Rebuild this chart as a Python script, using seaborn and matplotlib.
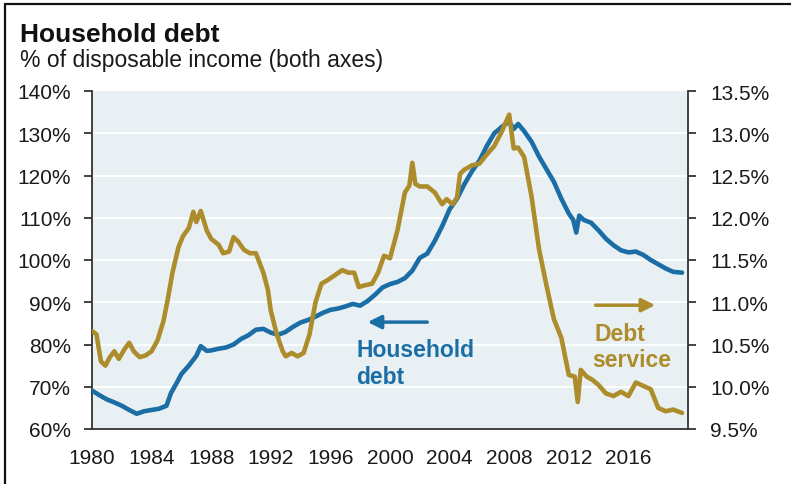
import matplotlib
matplotlib.use("Agg")
import matplotlib.pyplot as plt
import seaborn as sns
import pandas as pd
from matplotlib.lines import Line2D

# ---------------- data ----------------
hh_years = [1980.0, 1980.5, 1981.0, 1981.5, 1982.0, 1982.5, 1983.0, 1983.5, 1984.0, 1984.5,
            1985.0, 1985.3, 1985.7, 1986.0, 1986.5, 1987.0, 1987.3, 1987.7, 1988.0, 1988.5,
            1989.0, 1989.5, 1990.0, 1990.5, 1991.0, 1991.5, 1992.0, 1992.5, 1993.0, 1993.5,
            1994.0, 1994.5, 1995.0, 1995.5, 1996.0, 1996.5, 1997.0, 1997.5, 1998.0, 1998.5,
            1999.0, 1999.5, 2000.0, 2000.5, 2001.0, 2001.5, 2002.0, 2002.5, 2003.0, 2003.5,
            2004.0, 2004.5, 2005.0, 2005.5, 2006.0, 2006.5, 2007.0, 2007.5, 2008.0, 2008.3,
            2008.6, 2009.0, 2009.5, 2010.0, 2010.5, 2011.0, 2011.5, 2012.0, 2012.3, 2012.5,
            2012.7, 2013.0, 2013.5, 2014.0, 2014.5, 2015.0, 2015.5, 2016.0, 2016.5, 2017.0,
            2017.5, 2018.0, 2018.5, 2019.0, 2019.6]
hh_debt = [69.1, 68.0, 67.0, 66.3, 65.5, 64.5, 63.6, 64.2, 64.5, 64.8,
           65.5, 68.5, 71.0, 73.0, 75.0, 77.3, 79.6, 78.5, 78.6, 79.0,
           79.3, 80.0, 81.3, 82.2, 83.5, 83.7, 82.8, 82.3, 83.0, 84.2,
           85.2, 85.8, 86.6, 87.5, 88.2, 88.5, 89.0, 89.6, 89.2, 90.3,
           91.8, 93.5, 94.3, 94.8, 95.7, 97.5, 100.5, 101.5, 104.5, 108.0,
           112.0, 114.5, 118.0, 121.0, 123.5, 127.0, 130.0, 131.5, 132.8, 131.0,
           132.2, 130.5, 128.0, 124.5, 121.5, 118.5, 114.5, 111.0, 109.5, 106.5,
           110.5, 109.5, 108.8, 107.0, 105.0, 103.5, 102.3, 101.8, 102.0, 101.2,
           100.0, 99.0, 98.0, 97.2, 97.0]

ds_years = [1980.0, 1980.3, 1980.6, 1980.9, 1981.2, 1981.5, 1981.8, 1982.2, 1982.5, 1982.8,
            1983.2, 1983.6, 1984.0, 1984.4, 1984.8, 1985.1, 1985.4, 1985.8, 1986.1, 1986.5,
            1986.8, 1987.0, 1987.3, 1987.7, 1988.0, 1988.5, 1988.8, 1989.2, 1989.5, 1989.8,
            1990.2, 1990.6, 1991.0, 1991.5, 1991.8, 1992.0, 1992.4, 1992.8, 1993.0, 1993.4,
            1993.8, 1994.2, 1994.6, 1995.0, 1995.4, 1995.8, 1996.3, 1996.8, 1997.2, 1997.6,
            1997.9, 1998.3, 1998.8, 1999.2, 1999.6, 2000.0, 2000.5, 2001.0, 2001.3, 2001.5,
            2001.7, 2002.0, 2002.5, 2003.0, 2003.5, 2003.8, 2004.2, 2004.5, 2004.7, 2005.0,
            2005.5, 2006.0, 2006.5, 2007.0, 2007.5, 2008.0, 2008.3, 2008.6, 2009.0, 2009.5,
            2010.0, 2010.5, 2011.0, 2011.5, 2012.0, 2012.4, 2012.6, 2012.8, 2013.2, 2013.6,
            2014.0, 2014.5, 2015.0, 2015.5, 2016.0, 2016.5, 2017.0, 2017.5, 2018.0, 2018.5,
            2019.0, 2019.6]
debt_service = [10.66, 10.62, 10.30, 10.25, 10.35, 10.42, 10.33, 10.45, 10.52, 10.42,
                10.35, 10.37, 10.42, 10.55, 10.78, 11.05, 11.35, 11.65, 11.78, 11.88,
                12.07, 11.95, 12.08, 11.85, 11.75, 11.68, 11.58, 11.60, 11.77, 11.72,
                11.62, 11.58, 11.58, 11.35, 11.15, 10.90, 10.62, 10.42, 10.36, 10.40,
                10.36, 10.40, 10.62, 11.00, 11.22, 11.26, 11.32, 11.38, 11.35, 11.35,
                11.18, 11.20, 11.22, 11.35, 11.55, 11.52, 11.85, 12.30, 12.38, 12.65,
                12.40, 12.37, 12.37, 12.30, 12.16, 12.22, 12.16, 12.24, 12.52, 12.57,
                12.62, 12.64, 12.75, 12.85, 13.02, 13.22, 12.82, 12.83, 12.72, 12.25,
                11.63, 11.20, 10.80, 10.58, 10.14, 10.12, 9.82, 10.20, 10.12, 10.08,
                10.02, 9.92, 9.89, 9.94, 9.89, 10.05, 10.01, 9.97, 9.75, 9.71,
                9.73, 9.69]

x_ticks = [1980, 1984, 1988, 1992, 1996, 2000, 2004, 2008, 2012, 2016]
left_ticks = [60, 70, 80, 90, 100, 110, 120, 130, 140]
right_ticks = [9.5, 10.0, 10.5, 11.0, 11.5, 12.0, 12.5, 13.0, 13.5]

# ---------------- style ----------------
sns.set_style("white")
plt.rcParams['font.family'] = ['Liberation Sans', 'DejaVu Sans']

BLUE = "#1b6ea5"
GOLD = "#ad8c2c"
BG = "#e9f0f4"
DARK = "#333333"

fig = plt.figure(figsize=(7.91, 4.85), dpi=100)
ax = fig.add_axes([92/791, 1-430/485, (688-92)/791, (430-92)/485])
ax.set_facecolor(BG)

df_hh = pd.DataFrame({"year": hh_years, "value": hh_debt})
df_ds = pd.DataFrame({"year": ds_years, "value": debt_service})

sns.lineplot(data=df_hh, x="year", y="value", ax=ax, color=BLUE, lw=3.3, zorder=3)
ax.set_xlim(1980, 2020)
ax.set_ylim(60, 140)
ax.set_yticks(left_ticks)
ax.set_yticklabels([f"{v}%" for v in left_ticks])
ax.set_xticks(x_ticks)
ax.set_xticklabels([str(v) for v in x_ticks])
ax.set_xlabel("")
ax.set_ylabel("")
for v in left_ticks[1:-1]:
    ax.axhline(v, color="white", lw=1.3, zorder=1)

ax2 = ax.twinx()
sns.lineplot(data=df_ds, x="year", y="value", ax=ax2, color=GOLD, lw=3.3, zorder=3)
ax2.set_ylim(9.5, 13.5)
ax2.set_yticks(right_ticks)
ax2.set_yticklabels([f"{v:.1f}%" for v in right_ticks])
ax2.set_ylabel("")
ax2.set_xlim(1980, 2020)

for a in (ax, ax2):
    a.spines['top'].set_visible(False)
    for s in ('left', 'right', 'bottom'):
        a.spines[s].set_color(DARK)
        a.spines[s].set_linewidth(1.3)
    a.grid(False)

ax.spines['right'].set_visible(False)
ax2.spines['left'].set_visible(False)
ax2.spines['bottom'].set_visible(False)

ax.tick_params(axis='y', direction='out', length=6, width=1.3, color=DARK, pad=9,
               labelsize=15, labelcolor="#1a1a1a")
ax.tick_params(axis='x', direction='out', length=5, width=1.3, color=DARK, pad=9,
               labelsize=15, labelcolor="#1a1a1a")
ax2.tick_params(axis='y', direction='out', length=6, width=1.3, color=DARK, pad=10,
                labelsize=15, labelcolor="#1a1a1a")

# ---------------- annotations ----------------
ax.annotate("", xy=(1998.5, 85.3), xytext=(2002.5, 85.3),
            arrowprops=dict(arrowstyle="-|>", color=BLUE, lw=2.5, mutation_scale=20,
                            shrinkA=0, shrinkB=0), zorder=4)
ax.text(1997.75, 78.9, "Household", color=BLUE, fontsize=16.5, fontweight="bold",
        ha="left", va="center", zorder=4)
ax.text(1997.75, 72.4, "debt", color=BLUE, fontsize=16.5, fontweight="bold",
        ha="left", va="center", zorder=4)

ax.annotate("", xy=(2017.8, 89.3), xytext=(2013.8, 89.3),
            arrowprops=dict(arrowstyle="-|>", color=GOLD, lw=2.5, mutation_scale=20,
                            shrinkA=0, shrinkB=0), zorder=4)
ax.text(2013.75, 82.7, "Debt", color=GOLD, fontsize=16.5, fontweight="bold",
        ha="left", va="center", zorder=4)
ax.text(2013.6, 76.5, "service", color=GOLD, fontsize=16.5, fontweight="bold",
        ha="left", va="center", zorder=4)

# ---------------- titles ----------------
fig.text(20/791, 1-42/485, "Household debt", fontsize=19, fontweight="bold",
         color="#111111", ha="left", va="baseline")
fig.text(20/791, 1-67/485, "% of disposable income (both axes)", fontsize=16.5,
         color="#1a1a1a", ha="left", va="baseline")

# frame (left and top edges visible in the reference)
fig.add_artist(Line2D([5/791, 5/791], [0, 1-5/485], transform=fig.transFigure,
                      color="#111111", lw=1.6))
fig.add_artist(Line2D([5/791, 1], [1-5/485, 1-5/485], transform=fig.transFigure,
                      color="#111111", lw=1.6))

fig.savefig("out.png", dpi=100)
